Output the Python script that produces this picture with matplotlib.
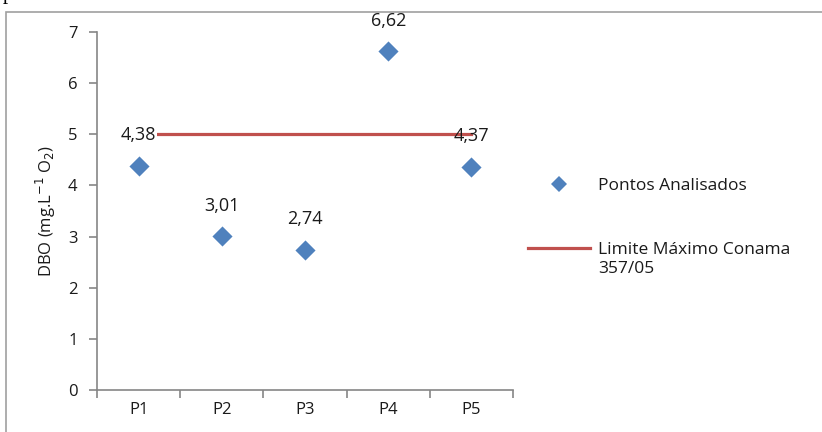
import matplotlib.pyplot as plt
from matplotlib.lines import Line2D
from matplotlib.patches import Rectangle

# DBO por ponto de coleta e limite CONAMA 357/05
pontos = ['P1', 'P2', 'P3', 'P4', 'P5']
dbo = [4.38, 3.01, 2.74, 6.62, 4.37]
rotulos = ['4,38', '3,01', '2,74', '6,62', '4,37']
limite = [5, 5, 5, 5, 5]

azul = '#4F81BD'
vermelho = '#C0504D'
cinza = '#868686'
texto = '#1a1a1a'

plt.rcParams['font.family'] = ['Open Sans', 'DejaVu Sans']

fig = plt.figure(figsize=(8.22, 4.32), dpi=100)
ax = fig.add_axes([97 / 822, 1 - 390 / 432, 416 / 822, 358 / 432])

x = list(range(1, len(pontos) + 1))
ax.plot(x, limite, color=vermelho, lw=2.3, zorder=2)
ax.scatter(x, dbo, marker='D', s=105, color=azul, linewidths=0, zorder=4)

for i, (xi, yi, txt) in enumerate(zip(x, dbo, rotulos)):
    bbox = None
    if i == 0:
        bbox = dict(facecolor='white', edgecolor='none', pad=0.3)
    ax.annotate(txt, (xi, yi), xytext=(0, 22), textcoords='offset points',
                ha='center', va='center', fontsize=13, color=texto,
                bbox=bbox, zorder=3)

ax.set_xlim(0.5, len(pontos) + 0.5)
ax.set_ylim(0, 7)
ax.set_yticks(range(0, 8))
ax.set_xticks([i + 0.5 for i in range(0, len(pontos) + 1)])
ax.set_xticklabels([])
ax.set_xticks(x, minor=True)
ax.set_xticklabels(pontos, minor=True)
ax.tick_params(axis='x', which='major', length=6, color=cinza, width=1.2)
ax.tick_params(axis='x', which='minor', length=0, pad=9, labelsize=12,
               labelcolor=texto)
ax.tick_params(axis='y', length=6, color=cinza, width=1.2, pad=8,
               labelsize=12, labelcolor=texto)

for lado in ['top', 'right']:
    ax.spines[lado].set_visible(False)
for lado in ['left', 'bottom']:
    ax.spines[lado].set_color(cinza)
    ax.spines[lado].set_linewidth(1.2)

ax.set_ylabel('DBO (mg.L$^{-1}$ O$_2$)', fontsize=12, color=texto,
              labelpad=7)

handles = [
    Line2D([], [], marker='D', color=azul, linestyle='none', markersize=8,
           markeredgewidth=0),
    Line2D([], [], color=vermelho, lw=2.3),
]
leg = fig.legend(handles, ['Pontos Analisados', 'Limite Máximo Conama'],
                 loc='upper left', bbox_to_anchor=(512 / 822, 1 - 162 / 432),
                 frameon=False, fontsize=12.5, handlelength=3.6,
                 labelspacing=2.75, handletextpad=0.45, labelcolor=texto)

# segunda linha do rótulo do limite, logo abaixo da entrada da legenda
fig.canvas.draw()
ext = leg.get_texts()[1].get_window_extent()
fig.text(ext.x0 / 822, (ext.y0 - 3) / 432, '357/05', fontsize=12.5,
         color=texto, ha='left', va='top')

# moldura do gráfico
fig.patches.append(Rectangle((6 / 822, -0.1), 1.0, 1.1 - 12 / 432,
                             transform=fig.transFigure, fill=False,
                             edgecolor='#a0a0a0', lw=1.2))

fig.text(3 / 822, 1 + 1 / 432, 'período avaliado.', family='Liberation Serif',
         fontsize=15, va='baseline', ha='left')

fig.savefig('out.png', dpi=100)
